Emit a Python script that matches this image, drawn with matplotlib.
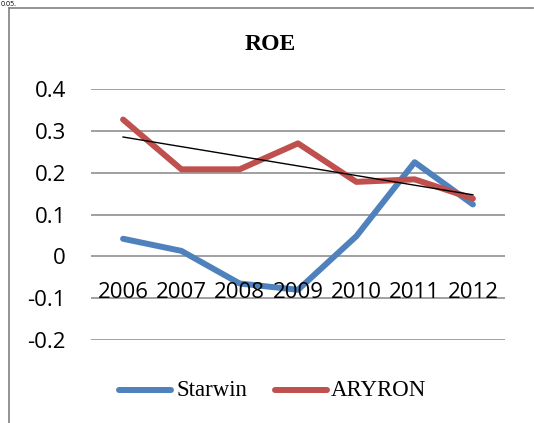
import numpy as np
import matplotlib
matplotlib.use("Agg")
import matplotlib.pyplot as plt
from matplotlib.lines import Line2D

years = ["2006", "2007", "2008", "2009", "2010", "2011", "2012"]
starwin = [0.042, 0.013, -0.065, -0.080, 0.048, 0.225, 0.124]
aryron = [0.327, 0.208, 0.208, 0.270, 0.178, 0.184, 0.138]
yticks = [-0.2, -0.1, 0, 0.1, 0.2, 0.3, 0.4]
ytick_labels = ["-0.2", "-0.1", "0", "0.1", "0.2", "0.3", "0.4"]

W, H = 534, 423
fig = plt.figure(figsize=(W / 100, H / 100), dpi=100)
fig.patch.set_facecolor("white")

# outer chart border (left and top visible)
fig.add_artist(Line2D([8.5 / W, 8.5 / W], [0, 1 - 8.5 / H], transform=fig.transFigure,
                      color="#808080", lw=1.2))
fig.add_artist(Line2D([8.5 / W, 533 / W], [1 - 8.5 / H, 1 - 8.5 / H], transform=fig.transFigure,
                      color="#808080", lw=1.2))
# document text at top-left (partly hidden in the source)
fig.text(1 / W, 1 - 0.5 / H, "0.05.", fontsize=5, family="Open Sans", va="top", ha="left")

ax = fig.add_axes([91 / W, 1 - 340 / H, (505 - 91) / W, (340 - 89) / H])
ax.set_facecolor("none")
x = np.arange(len(years))
ax.set_xlim(-0.55, len(years) - 0.45)
ax.set_ylim(-0.2, 0.4)
for s in ax.spines.values():
    s.set_visible(False)
ax.set_yticks(yticks)
ax.set_yticklabels(ytick_labels, family="Open Sans", fontsize=16)
ax.tick_params(axis="y", length=0, pad=18)
ax.set_xticks([])
for yv in yticks:
    ax.axhline(yv, color="#868686", lw=1.1, zorder=1)

ax.plot(x, starwin, color="#4f81bd", lw=4.3, solid_capstyle="round", solid_joinstyle="round", zorder=3)
ax.plot(x, aryron, color="#c0504d", lw=4.3, solid_capstyle="round", solid_joinstyle="round", zorder=3)
coef = np.polyfit(x, aryron, 1)
ax.plot(x, np.polyval(coef, x), color="black", lw=1.0, zorder=4)

for xi, yr in zip(x, years):
    ax.text(xi, -0.1, yr, ha="center", va="baseline", family="Open Sans", fontsize=16, zorder=5)

fig.text(270 / W, 1 - 44 / H, "ROE", ha="center", va="center",
         family="Liberation Serif", fontweight="bold", fontsize=17)

# legend
ly = 1 - 390 / H
fig.add_artist(Line2D([119 / W, 171 / W], [ly, ly], transform=fig.transFigure,
                      color="#4f81bd", lw=4.3, solid_capstyle="round"))
fig.text(177 / W, ly, "Starwin", ha="left", va="center", family="Liberation Serif", fontsize=16.5)
fig.add_artist(Line2D([275 / W, 327 / W], [ly, ly], transform=fig.transFigure,
                      color="#c0504d", lw=4.3, solid_capstyle="round"))
fig.text(331 / W, ly, "ARYRON", ha="left", va="center", family="Liberation Serif", fontsize=16.5)

fig.savefig("out.png", dpi=100)
